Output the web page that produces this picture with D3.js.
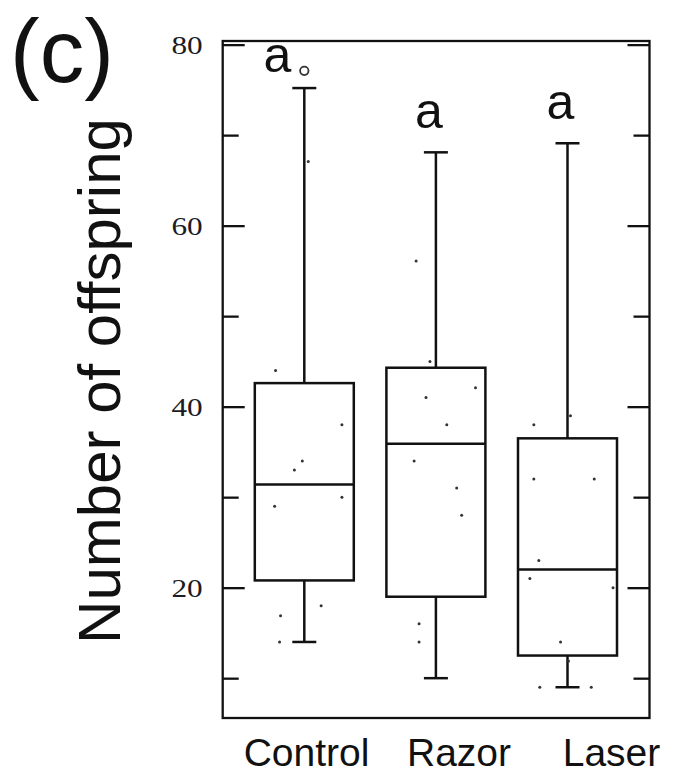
<!DOCTYPE html>
<html>
<head>
<meta charset="utf-8">
<script src="https://cdn.jsdelivr.net/npm/d3@7"></script>
<style>
  body { margin: 0; background: #fff; }
  svg { display: block; }
</style>
</head>
<body>
<svg></svg>
<script>
// groups and box statistics
const groups = ["Control", "Razor", "Laser"];
const whiskerLow = [14.0, 10.0, 9.0];
const q1 = [20.8, 19.0, 12.5];
const medians = [31.4, 35.9, 22.0];
const q3 = [42.6, 44.3, 36.5];
const whiskerHigh = [75.2, 68.1, 69.1];
const outliers = [[77.1], [], []];
const letters = ["a", "a", "a"];

// raw points (value, jitter as a fraction of the box width)
const controlPts = [44.0, 38.0, 34.0, 33.0, 30.0, 29.0, 18.0, 16.9, 14.0, 67.1];
const controlJit = [-0.29, 0.38, -0.02, -0.10, 0.38, -0.30, 0.17, -0.24, -0.25, 0.04];
const razorPts = [45.0, 42.1, 41.0, 38.0, 34.0, 31.0, 28.0, 16.0, 14.0, 56.1];
const razorJit = [-0.06, 0.40, -0.10, 0.11, -0.22, 0.21, 0.26, -0.17, -0.17, -0.20];
const laserPts = [39.0, 38.0, 32.0, 32.0, 23.0, 21.0, 20.0, 14.0, 11.9, 9.0, 9.0];
const laserJit = [0.03, -0.34, -0.34, 0.27, -0.29, -0.38, 0.46, -0.07, 0.01, -0.28, 0.24];

const majorTicks = [20, 40, 60, 80];
const minorTicks = [10, 30, 50, 70];

const w = 680;
const h = 774;
const plotLeft = 222.7, plotRight = 649.5, plotTop = 41, plotBottom = 718;
const boxW = 99;
const capW = 24;

const svg = d3.select('svg')
    .attr('width', w)
    .attr('height', h);

const yScale = d3.scaleLinear()
    .domain([5.6, 80.4])
    .range([plotBottom, plotTop]);

const xScale = d3.scalePoint()
    .domain(groups)
    .range([304.3, 567.5]);

// label positions are slightly off the box centres in the original
const labelScale = d3.scalePoint()
    .domain(groups)
    .range([306.5, 611.5]);

const stats = groups.map((g, i) => ({
    name: g,
    low: whiskerLow[i],
    q1: q1[i],
    med: medians[i],
    q3: q3[i],
    high: whiskerHigh[i],
    out: outliers[i],
    letter: letters[i]
}));

const points = [];
[[controlPts, controlJit], [razorPts, razorJit], [laserPts, laserJit]].forEach((pair, i) => {
    pair[0].forEach((v, j) => points.push({ g: groups[i], v: v, j: pair[1][j] }));
});

//ticks
const drawAxes = () => {
    const axes = [
        [d3.axisLeft(yScale).tickValues(majorTicks).tickSize(-22), plotLeft, true],
        [d3.axisLeft(yScale).tickValues(minorTicks).tickSize(-16), plotLeft, false],
        [d3.axisRight(yScale).tickValues(majorTicks).tickSize(-22), plotRight, false],
        [d3.axisRight(yScale).tickValues(minorTicks).tickSize(-16), plotRight, false]
    ];
    axes.forEach(a => {
        const g = svg.append('g')
            .attr('transform', 'translate(' + a[1] + ',0)')
            .call(a[0]);
        g.select('.domain').remove();
        g.selectAll('line').attr('stroke', '#111').attr('stroke-width', 2.3);
        if (a[2]) {
            // the original tick labels are a wide serif: stretch Times a little
            g.selectAll('text')
                .attr('x', 0)
                .attr('transform', 'translate(-20,0) scale(1.25,1)')
                .attr('font-family', '"Liberation Serif", "Times New Roman", serif')
                .attr('font-size', 25)
                .attr('fill', '#1c1c24')
                .attr('dy', '0.36em');
        } else {
            g.selectAll('text').remove();
        }
    });

    svg.append('rect')
        .attr('x', plotLeft)
        .attr('y', plotTop)
        .attr('width', plotRight - plotLeft)
        .attr('height', plotBottom - plotTop)
        .attr('fill', 'none')
        .attr('stroke', '#111')
        .attr('stroke-width', 2.3);
}

const drawBoxes = () => {
    const box = svg.selectAll('g.box')
        .data(stats)
        .enter()
        .append('g')
        .attr('class', 'box');

    // whiskers
    box.append('line')
        .attr('x1', d => xScale(d.name)).attr('x2', d => xScale(d.name))
        .attr('y1', d => yScale(d.q3)).attr('y2', d => yScale(d.high));
    box.append('line')
        .attr('x1', d => xScale(d.name)).attr('x2', d => xScale(d.name))
        .attr('y1', d => yScale(d.q1)).attr('y2', d => yScale(d.low));
    box.append('line')
        .attr('x1', d => xScale(d.name) - capW / 2).attr('x2', d => xScale(d.name) + capW / 2)
        .attr('y1', d => yScale(d.high)).attr('y2', d => yScale(d.high));
    box.append('line')
        .attr('x1', d => xScale(d.name) - capW / 2).attr('x2', d => xScale(d.name) + capW / 2)
        .attr('y1', d => yScale(d.low)).attr('y2', d => yScale(d.low));

    box.append('rect')
        .attr('x', d => xScale(d.name) - boxW / 2)
        .attr('y', d => yScale(d.q3))
        .attr('width', boxW)
        .attr('height', d => yScale(d.q1) - yScale(d.q3))
        .attr('fill', 'none');

    box.append('line')
        .attr('x1', d => xScale(d.name) - boxW / 2).attr('x2', d => xScale(d.name) + boxW / 2)
        .attr('y1', d => yScale(d.med)).attr('y2', d => yScale(d.med));

    box.selectAll('line, rect')
        .attr('stroke', '#111')
        .attr('stroke-width', 2.5);

    // outliers
    box.selectAll('circle.out')
        .data(d => d.out.map(v => ({ name: d.name, v: v })))
        .enter()
        .append('circle')
        .attr('class', 'out')
        .attr('cx', d => xScale(d.name))
        .attr('cy', d => yScale(d.v))
        .attr('r', 4.2)
        .attr('fill', 'none')
        .attr('stroke', '#333')
        .attr('stroke-width', 1.8);

    // significance letters, pushed left when an outlier sits above the whisker
    box.append('text')
        .attr('x', d => xScale(d.name) - (d.out.length ? 27 : 7))
        .attr('y', d => d.out.length ? yScale(d3.max(d.out)) + 1 : yScale(d.high) - 24)
        .attr('text-anchor', 'middle')
        .attr('font-family', '"Liberation Sans", Arial, sans-serif')
        .attr('font-size', 50)
        .attr('fill', '#111')
        .text(d => d.letter);
}

const drawPoints = () => {
    svg.selectAll('circle.pt')
        .data(points)
        .enter()
        .append('circle')
        .attr('class', 'pt')
        .attr('cx', d => xScale(d.g) + d.j * boxW)
        .attr('cy', d => yScale(d.v))
        .attr('r', 1.5)
        .attr('fill', '#333');
}

const drawLabels = () => {
    svg.selectAll('text.xlab')
        .data(groups)
        .enter()
        .append('text')
        .attr('class', 'xlab')
        .attr('x', d => labelScale(d))
        .attr('y', 766)
        .attr('text-anchor', 'middle')
        .attr('font-family', '"Liberation Sans", Arial, sans-serif')
        .attr('font-size', 39)
        .attr('fill', '#111')
        .text(d => d);

    //Y-axis label
    svg.append('text')
        .attr('transform', 'translate(120,381) rotate(-90)')
        .attr('text-anchor', 'middle')
        .attr('font-family', '"Liberation Sans", Arial, sans-serif')
        .attr('font-size', 60)
        .attr('fill', '#111')
        .text('Number of offspring');

    //panel letter
    svg.append('text')
        .attr('x', 10)
        .attr('y', 82)
        .attr('font-family', '"Liberation Sans", Arial, sans-serif')
        .attr('font-size', 89)
        .attr('fill', '#111')
        .text('(c)');
}

drawAxes();
drawBoxes();
drawPoints();
drawLabels();
</script>
</body>
</html>
